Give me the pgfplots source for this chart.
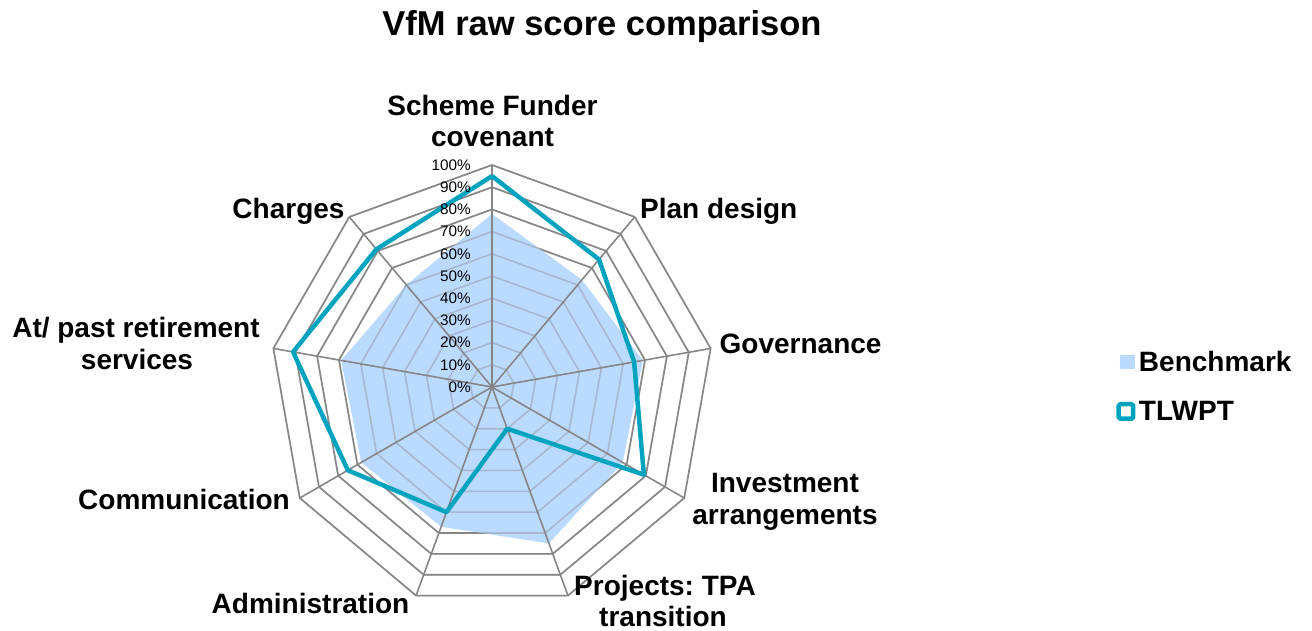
\documentclass[border=0pt]{standalone}
\usepackage{pgfplots}
\pgfplotsset{compat=1.18}
\usepgfplotslibrary{polar}
\usepackage{fontspec}
\setmainfont{Liberation Sans}
\frenchspacing
\definecolor{bench}{RGB}{187,218,255}
\definecolor{tlwpt}{RGB}{0,164,191}
\definecolor{gridgray}{RGB}{134,134,134}
\newcommand{\lab}{\fontsize{28bp}{32bp}\selectfont\bfseries}
\newcommand{\ttl}{\fontsize{34.5bp}{40bp}\selectfont\bfseries}
\newcommand{\tck}{\fontsize{15.3bp}{18bp}\selectfont}

\begin{document}
\begin{tikzpicture}[x=1bp,y=1bp]
\path[use as bounding box] (0,0) rectangle (1312,631);
\begin{polaraxis}[
  at={(492bp,244bp)}, anchor=center,
  width=444bp, height=444bp, scale only axis,
  ymin=0, ymax=100,
  hide axis, clip=false,
  legend style={at={(1.906,0.501)}, anchor=west, draw=none, fill=none,
    font=\lab, inner sep=0pt, row sep=21bp,
    nodes={inner sep=3.5bp, anchor=west}},
  legend cell align=left,
]
% rings (opaque)
\pgfplotsinvokeforeach{10,20,30,40,50,60,70,80,90,100}{
  \addplot[draw=gridgray, line width=1.6bp, forget plot]
    coordinates {(90,#1)(50,#1)(10,#1)(330,#1)(290,#1)(250,#1)(210,#1)(170,#1)(130,#1)(90,#1)};
}
% Benchmark
\addplot[fill=bench, draw=none, area legend,
  legend image code/.code={\path (0bp,0bp) -- (19bp,0bp); \fill[bench] (4bp,-7bp) rectangle (19bp,7bp);}]
  coordinates {(90,78)(50,63)(10,69)(330,68)(290,75)(250,67)(210,68)(170,69)(130,60)(90,78)};
\addlegendentry{Benchmark}
% rings again, faint over the fill
\pgfplotsinvokeforeach{10,20,30,40,50,60,70,80,90,100}{
  \addplot[draw=gridgray, draw opacity=0.4, line width=1.6bp, forget plot]
    coordinates {(90,#1)(50,#1)(10,#1)(330,#1)(290,#1)(250,#1)(210,#1)(170,#1)(130,#1)(90,#1)};
}
% spokes
\pgfplotsinvokeforeach{90,50,10,330,290,250,210,170,130}{
  \addplot[draw=gridgray, line width=1.6bp, forget plot] coordinates {(#1,0)(#1,100)};
}
% TLWPT
\addplot[draw=tlwpt, line width=4.5bp, line join=round,
  legend image code/.code={\draw[tlwpt, line width=4.5bp, rounded corners=1.5bp] (2.25bp,-7.25bp) rectangle (16.75bp,7.25bp);}]
  coordinates {(90,95)(50,75)(10,65)(330,79)(290,20)(250,60)(210,75)(170,91)(130,81)(90,95)};
\addlegendentry{TLWPT}
% tick labels
\pgfplotsinvokeforeach{0,10,20,30,40,50,60,70,80,90,100}{
  \node[anchor=east, inner sep=0pt, xshift=-21bp, font=\tck] at (axis cs:90,#1) {#1\%};
}
\end{polaraxis}
\node[anchor=base, inner sep=0pt, font=\ttl] at (602,595) {VfM raw score comparison};
\begin{scope}[every node/.style={inner sep=0pt, font=\lab}]
\node[anchor=base] at (492.5,515) {Scheme Funder};
\node[anchor=base] at (492.5,484) {covenant};
\node[anchor=base west] at (640,412) {Plan design};
\node[anchor=base west] at (719.5,277.7) {Governance};
\node[anchor=base] at (785,138.7) {Investment};
\node[anchor=base] at (785,106) {arrangements};
\node[anchor=base] at (665,35) {Projects: TPA};
\node[anchor=base] at (663,4) {transition};
\node[anchor=base] at (310.5,17) {Administration};
\node[anchor=base] at (184,121) {Communication};
\node[anchor=base] at (136,293.3) {At/ past retirement};
\node[anchor=base] at (137,261) {services};
\node[anchor=base] at (288.5,412.7) {Charges};
\end{scope}
\end{tikzpicture}
\end{document}
